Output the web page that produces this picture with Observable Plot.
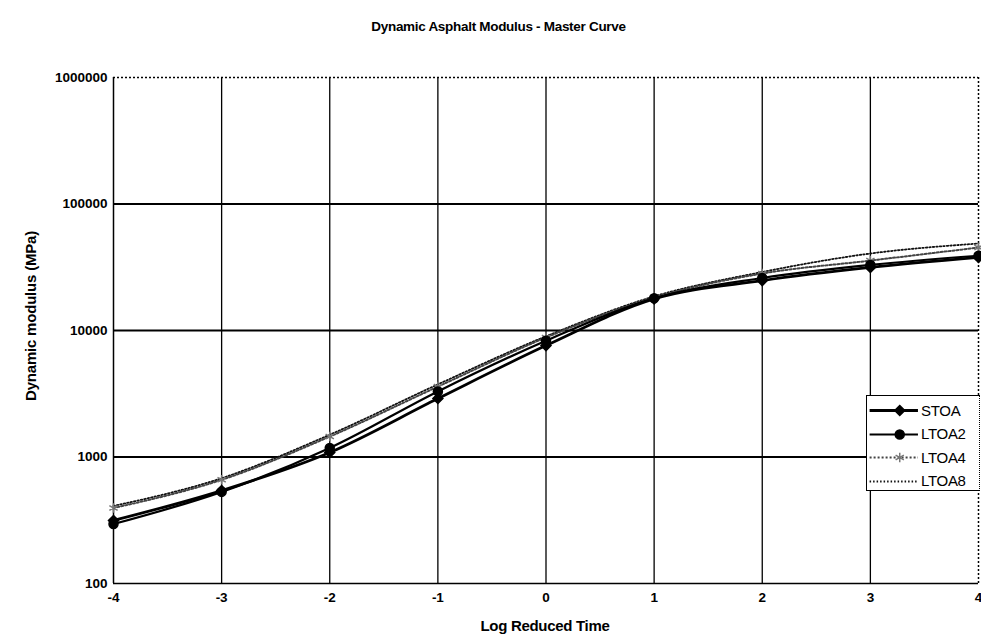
<!DOCTYPE html>
<html>
<head>
<meta charset="utf-8">
<script src="https://cdn.jsdelivr.net/npm/d3@7"></script>
<script src="https://cdn.jsdelivr.net/npm/@observablehq/plot@0.6"></script>
<style>
  html, body { margin: 0; padding: 0; background: #fff; }
  #wrap { position: relative; width: 981px; height: 644px; overflow: hidden; font-family: "Liberation Sans", Arial, sans-serif; }
  #title { position: absolute; left: 8px; top: 19px; width: 981px; text-align: center; font-weight: bold; font-size: 13.5px; letter-spacing: -0.3px; }
  #chart { position: absolute; left: 0; top: 50px; }
  #xlabel { position: absolute; left: 445px; width: 200px; top: 617px; text-align: center; font-weight: bold; font-size: 15px; letter-spacing: -0.3px; }
  #ylabel { position: absolute; left: 30px; top: 316px; transform: translate(-50%, -50%) rotate(-90deg); white-space: nowrap; font-weight: bold; font-size: 15px; letter-spacing: -0.2px; }
  #legend { position: absolute; left: 866px; top: 395px; width: 112px; height: 94px; background: #fff; border: 1.5px solid #000; border-right-style: dotted; }
  #legend .row { position: absolute; left: 0; height: 22px; display: flex; align-items: center; }
  #legend .row span { font-size: 15px; margin-left: 2px; letter-spacing: -0.3px; }
</style>
</head>
<body>
<div id="wrap">
  <div id="title">Dynamic Asphalt Modulus - Master Curve</div>
  <div id="chart"></div>
  <div id="xlabel">Log Reduced Time</div>
  <div id="ylabel">Dynamic modulus (MPa)</div>
  <div id="legend"></div>
</div>
<script>
// Data
const logTime = [-4, -3, -2, -1, 0, 1, 2, 3, 4];
const STOA  = [315, 543, 1086, 2900, 7600, 17800, 24800, 31500, 37800];
const LTOA2 = [295, 530, 1180, 3300, 8300, 18000, 26000, 33000, 39000];
const LTOA4 = [395, 660, 1450, 3600, 8800, 18200, 28200, 35700, 45300];
const LTOA8 = [410, 680, 1500, 3750, 9000, 18600, 29000, 40600, 48700];
const seriesNames = ["STOA", "LTOA2", "LTOA4", "LTOA8"];
const xTicks = [-4, -3, -2, -1, 0, 1, 2, 3, 4];
const yTicks = [100, 1000, 10000, 100000, 1000000];

const seriesValues = {STOA, LTOA2, LTOA4, LTOA8};
const styles = {
  STOA:  {stroke: "#000", width: 2.8, dash: null, symbol: "diamond2", r: 4.5, fill: "#000", mstroke: "#000"},
  LTOA2: {stroke: "#000", width: 2.2, dash: null, symbol: "circle", r: 4.5, fill: "#000", mstroke: "#000"},
  LTOA4: {stroke: "#444", width: 2.0, dash: "2,2", symbol: "asterisk", r: 4.5, fill: "none", mstroke: "#777"},
  LTOA8: {stroke: "#111", width: 1.8, dash: "1.5,2", symbol: null, r: 0, fill: "none", mstroke: "#000"}
};

const data = seriesNames.map(name => logTime.map((t, i) => ({series: name, t, v: seriesValues[name][i]})));

const marks = [
  Plot.ruleX(xTicks.slice(1, -1), {stroke: "#000", strokeWidth: 1.3}),
  Plot.ruleY(yTicks.slice(1, -1), {stroke: "#000", strokeWidth: 1.8}),
  Plot.ruleX([-4], {stroke: "#000", strokeWidth: 1.5}),
  Plot.ruleY([100], {stroke: "#000", strokeWidth: 1.5}),
  Plot.ruleY([1000000], {stroke: "#000", strokeWidth: 1.5, strokeDasharray: "2,2"}),
  Plot.ruleX([4], {stroke: "#000", strokeWidth: 1.5, strokeDasharray: "2,2"})
];
for (const name of ["LTOA8", "LTOA4", "LTOA2", "STOA"]) {
  const s = styles[name];
  const d = data[seriesNames.indexOf(name)];
  marks.push(Plot.line(d, {x: "t", y: "v", stroke: s.stroke, strokeWidth: s.width, strokeDasharray: s.dash, curve: "monotone-x"}));
  if (s.symbol) {
    marks.push(Plot.dot(d, {x: "t", y: "v", symbol: s.symbol, r: s.r, fill: s.fill, stroke: s.mstroke, strokeWidth: 1.5}));
  }
}

const chart = Plot.plot({
  width: 981,
  height: 594,
  marginLeft: 113,
  marginRight: 3,
  marginTop: 27,
  marginBottom: 61,
  style: {fontFamily: "'Liberation Sans', Arial, sans-serif", fontWeight: "bold", fontSize: "13.5px", background: "#fff", color: "#000"},
  x: {domain: [-4, 4], ticks: xTicks, tickSize: 0, tickPadding: 9, label: null, tickFormat: d => String(d)},
  y: {type: "log", domain: [100, 1000000], ticks: yTicks, tickSize: 0, tickPadding: 6, label: null, tickFormat: d => String(d)},
  marks
});
document.getElementById("chart").appendChild(chart);

// Legend
const legend = document.getElementById("legend");
seriesNames.forEach((name, i) => {
  const s = styles[name];
  const row = document.createElement("div");
  row.className = "row";
  row.style.top = (3 + i * 23.5) + "px";
  const sw = Plot.plot({
    width: 52, height: 22, margin: 0,
    x: {domain: [0, 1], axis: null}, y: {domain: [0, 1], axis: null},
    marks: [
      Plot.ruleY([0.5], {x1: 0.05, x2: 0.98, stroke: s.stroke, strokeWidth: s.width, strokeDasharray: s.dash}),
      s.symbol ? Plot.dot([{x: 0.62, y: 0.5}], {x: "x", y: "y", symbol: s.symbol, r: s.r, fill: s.fill, stroke: s.mstroke, strokeWidth: 1.5}) : null
    ]
  });
  row.appendChild(sw);
  const label = document.createElement("span");
  label.textContent = name;
  row.appendChild(label);
  legend.appendChild(row);
});
</script>
</body>
</html>
